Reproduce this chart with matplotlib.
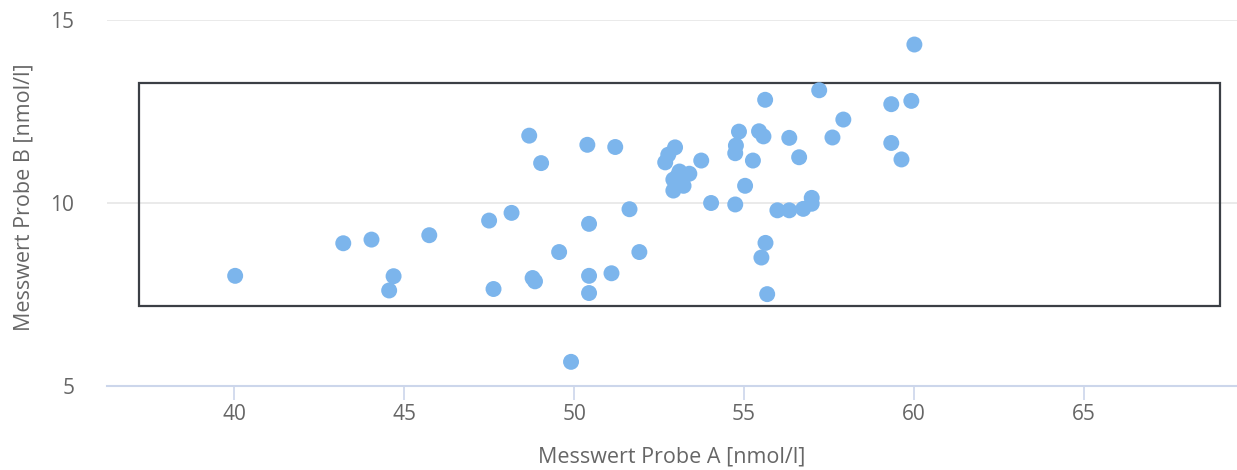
import matplotlib
matplotlib.use("Agg")
import matplotlib.pyplot as plt
from matplotlib.patches import Rectangle

plt.rcParams['font.family'] = ['Open Sans', 'DejaVu Sans']

# Paired measurements (nmol/l)
probe_a = [40.03, 43.21, 44.04, 44.69, 44.56, 45.74, 47.50, 48.16, 47.63,
           48.68, 49.03, 50.39, 51.21, 50.44, 51.63, 49.56, 51.92, 48.78,
           48.85, 50.44, 51.10, 50.44, 49.91,
           52.97, 52.77, 52.68, 53.74, 53.10, 53.39, 52.92, 53.22, 52.92, 53.04,
           54.03, 54.74, 54.85, 54.76, 54.74, 55.26, 55.03, 55.62, 55.44, 55.57,
           56.33, 56.62, 57.21, 57.92, 57.60, 59.33, 59.92, 59.33, 59.63, 60.01,
           55.98, 56.33, 56.74, 56.99, 56.99, 55.63, 55.51, 55.68]
probe_b = [8.01, 8.90, 9.00, 8.00, 7.61, 9.12, 9.52, 9.73, 7.65,
           11.84, 11.09, 11.59, 11.53, 9.43, 9.83, 8.66, 8.66, 7.95,
           7.86, 8.01, 8.08, 7.54, 5.66,
           11.52, 11.32, 11.11, 11.16, 10.86, 10.80, 10.64, 10.47, 10.34, 10.73,
           10.00, 9.96, 11.95, 11.57, 11.36, 11.16, 10.47, 12.82, 11.96, 11.82,
           11.78, 11.25, 13.08, 12.28, 11.79, 12.70, 12.79, 11.64, 11.19, 14.33,
           9.80, 9.80, 9.84, 10.14, 9.98, 8.91, 8.51, 7.51]

# Reference range box (x from/to, y from/to)
box_x = [37.2, 69.0]
box_y = [7.175, 13.28]

x_ticks = [40, 45, 50, 55, 60, 65]
y_ticks = [5, 10, 15]

W, H = 1237, 470
fig = plt.figure(figsize=(W / 100, H / 100), dpi=100)
ax = fig.add_axes([107 / W, 1 - 386 / H, 1 - 107 / W, (386 - 20) / H])

ax.set_xlim(36.26, 69.5)
ax.set_ylim(5, 15)

# grid and axes styling
for y in y_ticks[1:]:
    ax.axhline(y, color='#e6e6e6', lw=1.2, zorder=0)
for s in ['top', 'right', 'left']:
    ax.spines[s].set_visible(False)
ax.spines['bottom'].set_color('#ccd6eb')
ax.spines['bottom'].set_linewidth(1.5)

ax.set_xticks(x_ticks)
ax.set_yticks(y_ticks)
ax.tick_params(axis='x', colors='#ccd6eb', length=10, width=1.2, labelcolor='#666666',
               labelsize=15, pad=3)
ax.tick_params(axis='y', length=0, labelcolor='#666666', labelsize=15, pad=23.5)

ax.add_patch(Rectangle((box_x[0], box_y[0]), box_x[1] - box_x[0], box_y[1] - box_y[0],
                       fill=False, edgecolor='#3b3f45', lw=1.6, zorder=2))

ax.scatter(probe_a, probe_b, s=132, color='#7cb5ec', edgecolors='none', zorder=3,
           clip_on=False)

fig.text(672 / W, 1 - 457 / H, 'Messwert Probe A [nmol/l]', color='#666666',
         fontsize=15.5, ha='center', va='center')
fig.text(24 / W, 1 - 197.5 / H, 'Messwert Probe B [nmol/l]', color='#666666',
         fontsize=15.5, ha='center', va='center', rotation=90)

fig.savefig('out.png', dpi=100)
